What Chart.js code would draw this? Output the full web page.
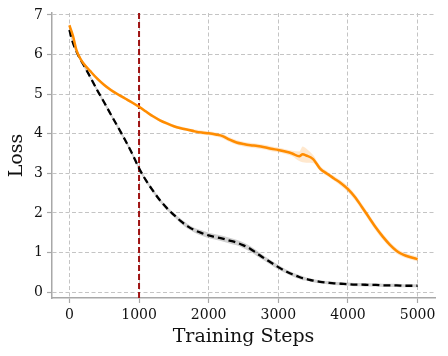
<!DOCTYPE html>
<html>
<head>
<meta charset="utf-8">
<script src="https://cdn.jsdelivr.net/npm/chart.js@4"></script>
<style>
  html, body { margin: 0; padding: 0; background: #fff; }
  canvas { display: block; }
</style>
</head>
<body>
<canvas id="grafico" width="448" height="356"></canvas>
<script>
// pasos de entrenamiento compartidos por ambas curvas
const steps = [0, 50, 100, 150, 200,
  300, 400, 500, 600, 700, 800, 900, 1000, 1100, 1200, 1300, 1400, 1500, 1600, 1700, 1800,
  1900, 2000, 2100, 2200, 2300, 2400, 2500, 2600, 2700, 2800, 2900, 3000, 3100, 3200, 3300,
  3350,
  3400, 3500, 3600, 3700, 3800, 3900, 4000, 4100, 4200, 4300, 4400, 4500, 4600, 4700, 4800, 4900, 5000];

const orangeLoss = [6.74, 6.48, 6.12, 5.92, 5.78,
  5.58, 5.39, 5.23, 5.10, 4.99, 4.89, 4.79, 4.68, 4.56, 4.44, 4.34, 4.26, 4.19, 4.14, 4.10, 4.06,
  4.03, 4.01, 3.98, 3.94, 3.85, 3.78, 3.74, 3.71, 3.69, 3.66, 3.62, 3.59, 3.55, 3.50, 3.43,
  3.48,
  3.45, 3.36, 3.12, 2.99, 2.87, 2.75, 2.60, 2.40, 2.15, 1.89, 1.63, 1.40, 1.20, 1.04, 0.94, 0.88, 0.83];

const orangeBand = [0.05, 0.05, 0.05, 0.05, 0.05,
  0.04, 0.04, 0.04, 0.04, 0.04, 0.04, 0.04, 0.04, 0.04, 0.04, 0.04, 0.04, 0.04, 0.04, 0.04, 0.05,
  0.05, 0.05, 0.05, 0.06, 0.06, 0.06, 0.06, 0.06, 0.06, 0.06, 0.06, 0.06, 0.06, 0.07, 0.12,
  0.20,
  0.18, 0.10, 0.07, 0.06, 0.06, 0.07, 0.08, 0.08, 0.08, 0.08, 0.08, 0.08, 0.07, 0.07, 0.06, 0.06, 0.06];

const blackLoss = [6.62, 6.30, 6.08, 5.90, 5.75,
  5.43, 5.10, 4.79, 4.47, 4.16, 3.84, 3.50, 3.13, 2.82, 2.56, 2.32, 2.12, 1.95, 1.79, 1.66, 1.56,
  1.49, 1.43, 1.39, 1.35, 1.30, 1.25, 1.18, 1.09, 0.97, 0.85, 0.74, 0.63, 0.53, 0.45, 0.38,
  0.35,
  0.33, 0.29, 0.26, 0.24, 0.22, 0.21, 0.20, 0.19, 0.19, 0.18, 0.18, 0.17, 0.17, 0.17, 0.16, 0.16, 0.16];

const blackBand = [0.05, 0.05, 0.05, 0.05, 0.05,
  0.05, 0.05, 0.05, 0.05, 0.05, 0.05, 0.05, 0.05, 0.05, 0.05, 0.05, 0.05, 0.05, 0.06, 0.06, 0.06,
  0.07, 0.07, 0.07, 0.07, 0.07, 0.07, 0.07, 0.07, 0.07, 0.06, 0.06, 0.06, 0.05, 0.05, 0.05,
  0.05,
  0.04, 0.04, 0.04, 0.04, 0.04, 0.04, 0.04, 0.04, 0.04, 0.04, 0.04, 0.04, 0.04, 0.04, 0.04, 0.04, 0.04];

const markerStep = 1000;
const xTicks = [0, 1000, 2000, 3000, 4000, 5000];
const yTicks = [0, 1, 2, 3, 4, 5, 6, 7];
const xRange = [-250, 5250];
const yRange = [-0.15, 7.05];

const fuente = "'DejaVu Serif', serif";
const colorGrid = "#c4c4c4";
const colorEje = "#a8a8a8";

const puntos = (vals) => steps.map((s, i) => ({ x: s, y: vals[i] }));
const sumar = (vals, band, signo) => vals.map((v, i) => v + signo * band[i]);

const bandaBase = { pointRadius: 0, borderWidth: 0, cubicInterpolationMode: "monotone" };

const datasets = [
  { ...bandaBase, label: "orange-up", data: puntos(sumar(orangeLoss, orangeBand, 1)),
    fill: "+1", backgroundColor: "rgba(255,150,30,0.22)", order: 6 },
  { ...bandaBase, label: "orange-low", data: puntos(sumar(orangeLoss, orangeBand, -1)),
    fill: false, order: 6 },
  { ...bandaBase, label: "black-up", data: puntos(sumar(blackLoss, blackBand, 1)),
    fill: "+1", backgroundColor: "rgba(0,0,0,0.18)", order: 5 },
  { ...bandaBase, label: "black-low", data: puntos(sumar(blackLoss, blackBand, -1)),
    fill: false, order: 5 },
  { label: "marker", data: [{ x: markerStep, y: yRange[0] }, { x: markerStep, y: yRange[1] }],
    borderColor: "#9e1212", borderWidth: 2, borderDash: [6, 3], pointRadius: 0, fill: false, order: 3 },
  { label: "black", data: puntos(blackLoss), borderColor: "#000", borderWidth: 2.3,
    borderDash: [7, 4], pointRadius: 0, fill: false, cubicInterpolationMode: "monotone", order: 2 },
  { label: "orange", data: puntos(orangeLoss), borderColor: "#ff8c00", borderWidth: 2.5,
    pointRadius: 0, fill: false, cubicInterpolationMode: "monotone", order: 1 },
];

const etiqueta = (v) => String(v);

new Chart(document.getElementById("grafico"), {
  type: "line",
  data: { datasets },
  options: {
    responsive: false,
    animation: false,
    layout: { padding: { left: 0, right: 13, top: 13, bottom: 0 } },
    plugins: { legend: { display: false }, tooltip: { enabled: false } },
    scales: {
      x: {
        type: "linear",
        min: xRange[0],
        max: xRange[1],
        afterBuildTicks: (axis) => { axis.ticks = xTicks.map((v) => ({ value: v })); },
        afterFit: (axis) => { axis.height = 58; },
        grid: { color: colorGrid, lineWidth: 1, tickLength: 5, tickColor: colorEje, tickWidth: 1.2 },
        border: { display: true, color: colorEje, width: 1.5, dash: [4, 2.5] },
        ticks: { color: "#111", padding: 4, maxRotation: 0, callback: etiqueta,
          font: { family: fuente, size: 14 } },
        title: { display: true, text: "Training Steps", color: "#111",
          font: { family: fuente, size: 19 }, padding: { top: 0, bottom: 8 } },
      },
      y: {
        type: "linear",
        min: yRange[0],
        max: yRange[1],
        afterBuildTicks: (axis) => { axis.ticks = yTicks.map((v) => ({ value: v })); },
        afterFit: (axis) => { axis.width = 52; },
        grid: { color: colorGrid, lineWidth: 1, tickLength: 5, tickColor: colorEje, tickWidth: 1.2 },
        border: { display: true, color: colorEje, width: 1.5, dash: [4, 2.5] },
        ticks: { color: "#111", padding: 4, callback: etiqueta, font: { family: fuente, size: 14 } },
        title: { display: true, text: "Loss", color: "#111",
          font: { family: fuente, size: 19 }, padding: { top: 6, bottom: 0 } },
      },
    },
  },
});
</script>
</body>
</html>
